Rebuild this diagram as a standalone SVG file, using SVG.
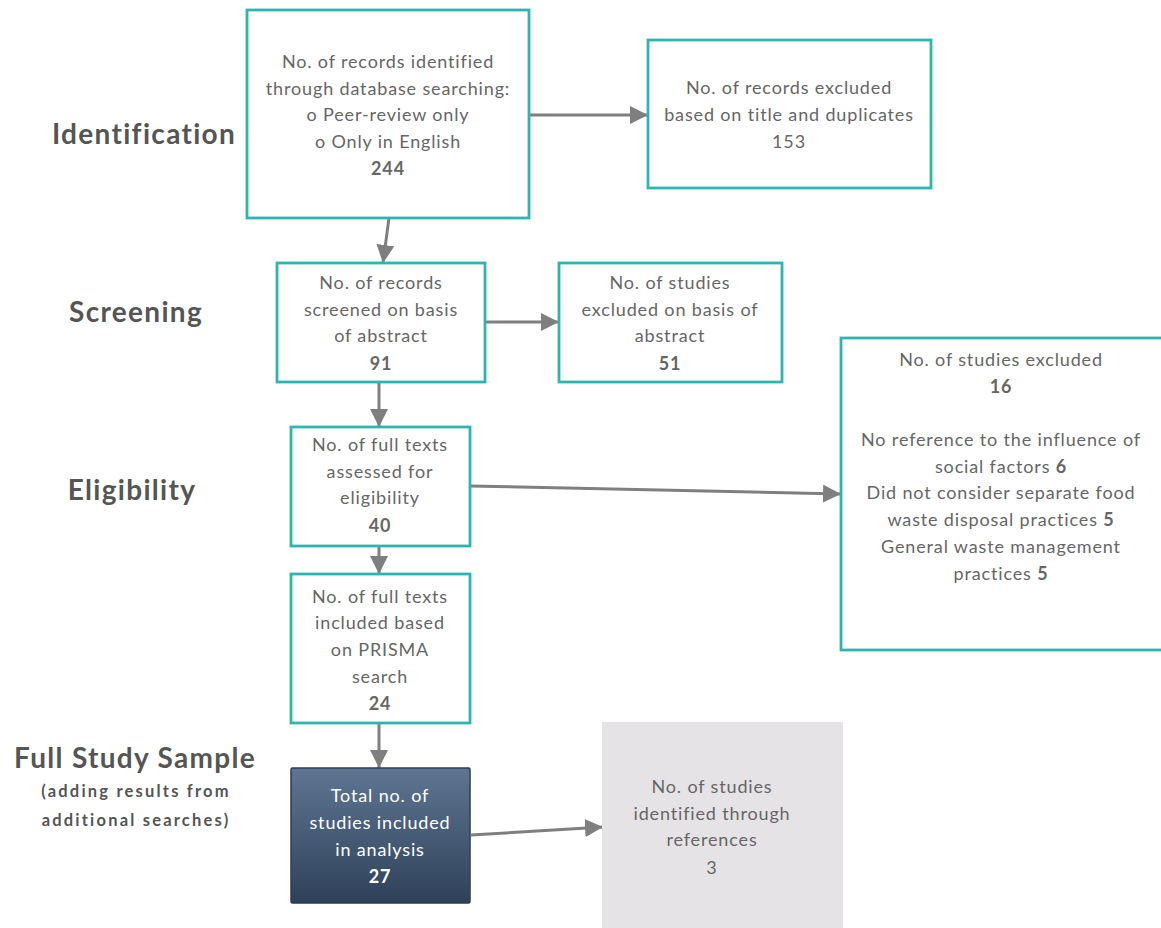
<svg xmlns="http://www.w3.org/2000/svg" width="1161" height="928" viewBox="0 0 1161 928">
<style>
.box{fill:#fff;stroke:#2fb4af;stroke-width:2.8}
.t{font-family:Lato,"Open Sans",sans-serif;font-size:18px;fill:#666;text-anchor:middle;letter-spacing:0.85px}
.w{fill:#fff}
.b{font-weight:bold}
.lab{font-family:Lato,"Open Sans",sans-serif;font-size:28px;font-weight:bold;fill:#555;text-anchor:middle;letter-spacing:1.3px}
.sub{font-family:Lato,"Open Sans",sans-serif;font-size:16.5px;font-weight:bold;fill:#555;text-anchor:middle;letter-spacing:2.2px}
.c{stroke:#7f7f7f;stroke-width:3;fill:none;marker-end:url(#ah)}
</style>
<defs>
<marker id="ah" markerWidth="6" markerHeight="6" refX="6" refY="3" orient="auto" markerUnits="strokeWidth">
<path d="M0,0 L6,3 L0,6 Z" fill="#7f7f7f"/>
</marker>
<linearGradient id="dg" x1="0" y1="0" x2="0" y2="1">
<stop offset="0" stop-color="#5e7692"/>
<stop offset="1" stop-color="#2f4159"/>
</linearGradient>
</defs>
<rect width="1161" height="928" fill="#fff"/>
<g id="labels">
<text class="lab" x="144" y="144">Identification</text>
<text class="lab" x="136" y="322">Screening</text>
<text class="lab" x="132" y="500">Eligibility</text>
<text class="lab" x="135" y="768">Full Study Sample</text>
<text class="sub" x="136" y="797">(adding results from</text>
<text class="sub" x="136" y="826">additional searches)</text>
</g>
<g id="connectors">
<line class="c" x1="529" y1="115" x2="648" y2="115"/>
<line class="c" x1="389" y1="218" x2="383" y2="263"/>
<line class="c" x1="485" y1="322" x2="559" y2="322"/>
<line class="c" x1="379" y1="382" x2="379" y2="427"/>
<line class="c" x1="470" y1="486" x2="841" y2="494"/>
<line class="c" x1="379" y1="546" x2="379" y2="574"/>
<line class="c" x1="379" y1="723" x2="379" y2="768"/>
<line class="c" x1="471" y1="835" x2="603" y2="827"/>
</g>
<g id="n1">
<rect class="box" x="247" y="10" width="282" height="208"/>
<text class="t" x="388" y="68">No. of records identified</text>
<text class="t" x="388" y="95">through database searching:</text>
<text class="t" x="388" y="121">o Peer-review only</text>
<text class="t" x="388" y="148">o Only in English</text>
<text class="t b" x="388" y="175">244</text>
</g>
<g id="n2">
<rect class="box" x="648" y="40" width="283" height="148"/>
<text class="t" x="789" y="94">No. of records excluded</text>
<text class="t" x="789" y="121">based on title and duplicates</text>
<text class="t" x="789" y="148">153</text>
</g>
<g id="n3">
<rect class="box" x="277" y="263" width="208" height="119"/>
<text class="t" x="381" y="289">No. of records</text>
<text class="t" x="381" y="316">screened on basis</text>
<text class="t" x="381" y="342">of abstract</text>
<text class="t b" x="381" y="370">91</text>
</g>
<g id="n4">
<rect class="box" x="559" y="263" width="223" height="119"/>
<text class="t" x="670" y="289">No. of studies</text>
<text class="t" x="670" y="316">excluded on basis of</text>
<text class="t" x="670" y="342">abstract</text>
<text class="t b" x="670" y="370">51</text>
</g>
<g id="n5">
<rect class="box" x="291" y="427" width="179" height="119"/>
<text class="t" x="380" y="451">No. of full texts</text>
<text class="t" x="380" y="478">assessed for</text>
<text class="t" x="380" y="504">eligibility</text>
<text class="t b" x="380" y="532">40</text>
</g>
<g id="n6">
<rect class="box" x="841" y="338" width="330" height="312"/>
<text class="t" x="1001" y="366">No. of studies excluded</text>
<text class="t b" x="1001" y="393">16</text>
<text class="t" x="1001" y="446">No reference to the influence of</text>
<text class="t" x="1001" y="473">social factors <tspan class="b">6</tspan></text>
<text class="t" x="1001" y="499">Did not consider separate food</text>
<text class="t" x="1001" y="526">waste disposal practices <tspan class="b">5</tspan></text>
<text class="t" x="1001" y="553">General waste management</text>
<text class="t" x="1001" y="580">practices <tspan class="b">5</tspan></text>
</g>
<g id="n7">
<rect class="box" x="291" y="574" width="179" height="149"/>
<text class="t" x="380" y="603">No. of full texts</text>
<text class="t" x="380" y="629">included based</text>
<text class="t" x="380" y="656">on PRISMA</text>
<text class="t" x="380" y="683">search</text>
<text class="t b" x="380" y="710">24</text>
</g>
<g id="n8">
<rect x="291" y="768" width="179" height="135" fill="url(#dg)" stroke="#2c3d53" stroke-width="1.5" rx="1.5"/>
<text class="t w" x="380" y="802">Total no. of</text>
<text class="t w" x="380" y="829">studies included</text>
<text class="t w" x="380" y="856">in analysis</text>
<text class="t w b" x="380" y="883">27</text>
</g>
<g id="n9">
<rect x="602" y="722" width="241" height="215" fill="#e6e3e6"/>
<text class="t" x="712" y="793">No. of studies</text>
<text class="t" x="712" y="820">identified through</text>
<text class="t" x="712" y="846">references</text>
<text class="t" x="712" y="874">3</text>
</g>
</svg>
